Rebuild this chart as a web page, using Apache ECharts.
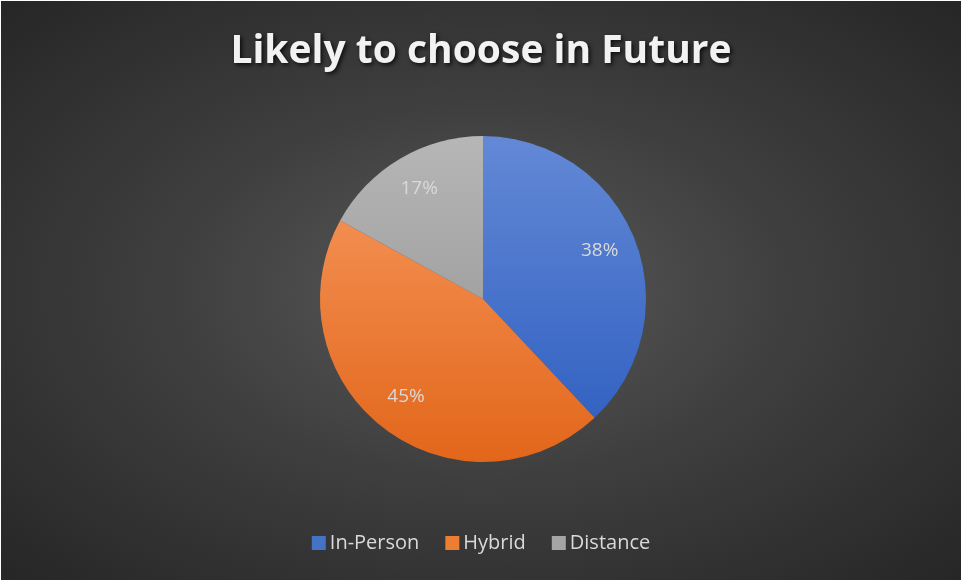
<!DOCTYPE html>
<html>
<head>
<meta charset="utf-8">
<script src="https://cdn.jsdelivr.net/npm/echarts@6/dist/echarts.min.js"></script>
<style>
  html, body { margin: 0; padding: 0; background: #ffffff; }
  #chart {
    position: absolute; left: 1px; top: 1px; width: 960px; height: 579px;
    background: radial-gradient(ellipse farthest-corner at 50% 50%, #5a5a5a 0%, #3f3f3f 45%, #262626 100%);
  }
</style>
</head>
<body>
<div id="chart"></div>
<script>
// Survey: format students are likely to choose in future
const titleText = 'Likely to choose in Future';
const categories = ['In-Person', 'Hybrid', 'Distance'];
const shares = [38, 45, 17];

const chart = echarts.init(document.getElementById('chart'), null, { renderer: 'canvas' });

// Top-to-bottom shading for each slice, spanning the whole pie
function shade(top, bottom) {
  return new echarts.graphic.LinearGradient(0, 136, 0, 462, [
    { offset: 0, color: top },
    { offset: 1, color: bottom }
  ], true);
}
const sliceFills = [
  shade('#6389d6', '#2c5cbf'),
  shade('#f89b62', '#e2661a'),
  shade('#b6b6b6', '#8e8e8e')
];
const legendFills = ['#4472c4', '#ed7d31', '#a5a5a5'];

const pieData = categories.map((name, i) => ({
  name: name,
  value: shares[i],
  itemStyle: { color: sliceFills[i] }
}));

const labelData = categories.map((name, i) => ({ name: name, value: shares[i] }));

chart.setOption({
  backgroundColor: 'transparent',
  animation: false,
  color: legendFills,
  title: {
    text: titleText,
    left: 'center',
    top: 26,
    textStyle: {
      fontFamily: 'Open Sans',
      fontWeight: 'bold',
      fontSize: 39,
      color: '#f2f2f2',
      textShadowColor: 'rgba(0,0,0,0.75)',
      textShadowBlur: 4,
      textShadowOffsetX: 2,
      textShadowOffsetY: 2
    }
  },
  legend: {
    bottom: 22,
    left: 'center',
    itemWidth: 14,
    itemHeight: 14,
    itemGap: 26,
    icon: 'rect',
    data: categories.map((name, i) => ({ name: name, itemStyle: { color: legendFills[i] } })),
    textStyle: { fontFamily: 'Open Sans', fontSize: 20, color: '#d9d9d9', padding: [0, 0, 0, -1] }
  },
  series: [
    {
      type: 'pie',
      center: [482, 298],
      radius: 163,
      startAngle: 90,
      clockwise: true,
      avoidLabelOverlap: false,
      label: { show: false },
      labelLine: { show: false },
      itemStyle: { borderWidth: 0 },
      emphasis: { disabled: true },
      data: pieData
    },
    {
      // transparent ring that places the percentage labels further out
      type: 'pie',
      center: [482, 296],
      radius: [82, 163],
      startAngle: 90,
      clockwise: true,
      silent: true,
      avoidLabelOverlap: false,
      itemStyle: { color: 'rgba(0,0,0,0)', borderWidth: 0 },
      label: {
        show: true,
        position: 'inside',
        formatter: '{c}%',
        fontFamily: 'Open Sans',
        fontSize: 19,
        color: '#d9d9d9'
      },
      labelLine: { show: false },
      emphasis: { disabled: true },
      legendHoverLink: false,
      data: labelData
    }
  ]
});
</script>
</body>
</html>
